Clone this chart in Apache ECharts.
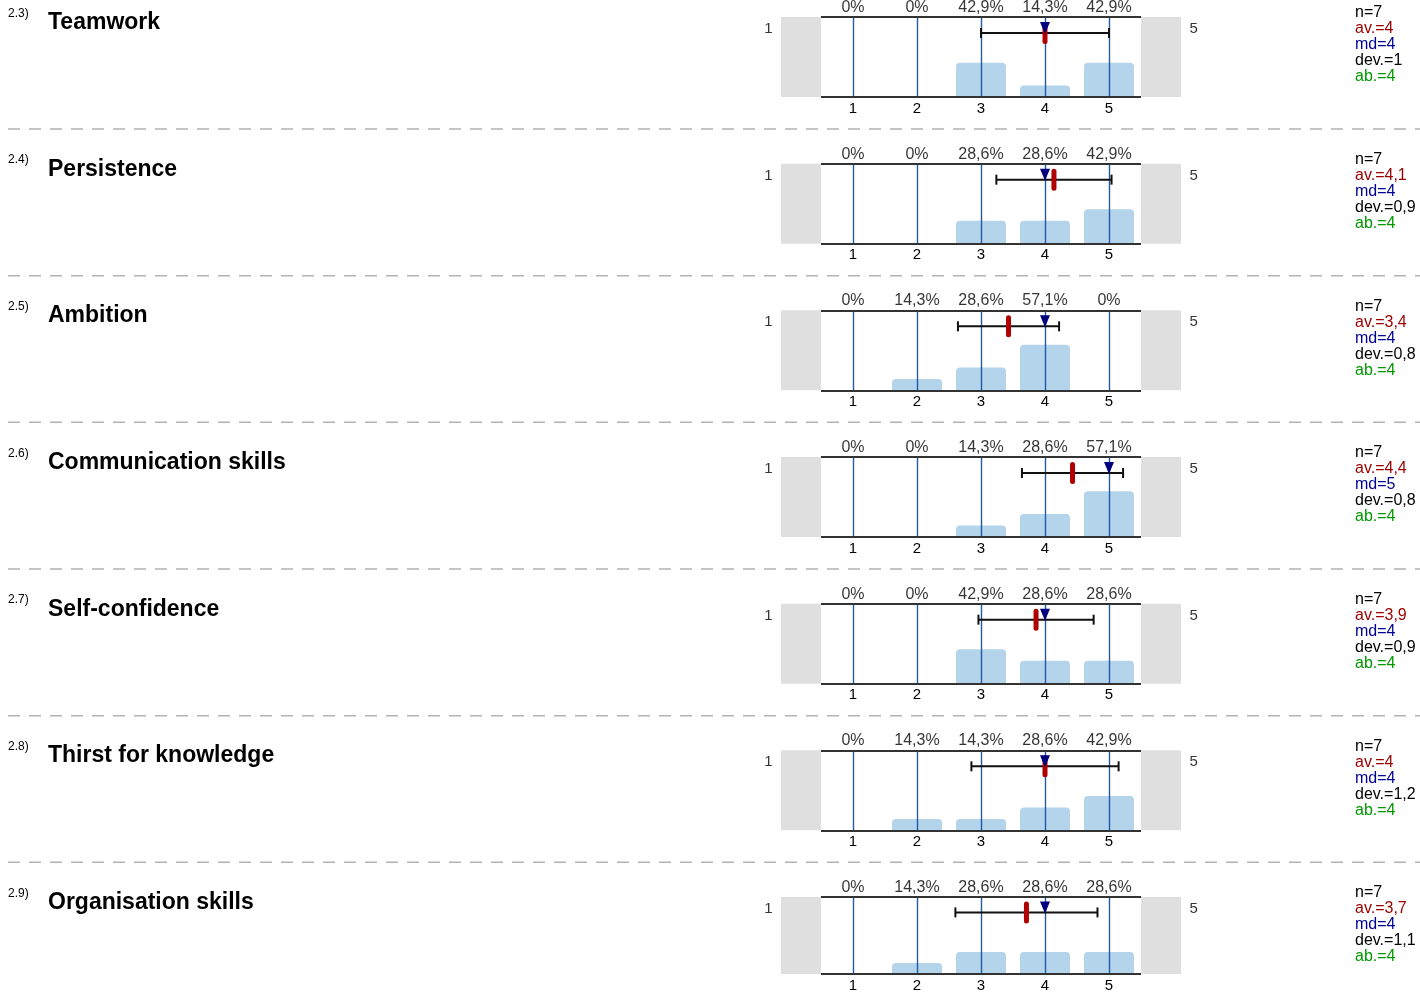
<!DOCTYPE html>
<html>
<head>
<meta charset="utf-8">
<script src="https://cdn.jsdelivr.net/npm/echarts@6/dist/echarts.min.js"></script>
<style>
html,body{margin:0;padding:0;background:#fff;}
#c{width:1420px;height:993px;}
</style>
</head>
<body>
<div id="c"></div>
<script>
// ---- data ----
var itemNumbers = ['2.3)', '2.4)', '2.5)', '2.6)', '2.7)', '2.8)', '2.9)'];
var itemTitles = ['Teamwork', 'Persistence', 'Ambition', 'Communication skills', 'Self-confidence', 'Thirst for knowledge', 'Organisation skills'];
var scaleValues = [1, 2, 3, 4, 5];
var scaleEnds = ['1', '5'];
var percents = [
  [0, 0, 42.9, 14.3, 42.9],
  [0, 0, 28.6, 28.6, 42.9],
  [0, 14.3, 28.6, 57.1, 0],
  [0, 0, 14.3, 28.6, 57.1],
  [0, 0, 42.9, 28.6, 28.6],
  [0, 14.3, 14.3, 28.6, 42.9],
  [0, 14.3, 28.6, 28.6, 28.6]
];
var means = [4.00, 4.14, 3.43, 4.43, 3.86, 4.00, 3.71];
var devs = [1.00, 0.90, 0.79, 0.79, 0.90, 1.15, 1.11];
var medians = [4, 4, 4, 5, 4, 4, 4];
var nValues = ['7', '7', '7', '7', '7', '7', '7'];
var avLabels = ['4', '4,1', '3,4', '4,4', '3,9', '4', '3,7'];
var mdLabels = ['4', '4', '4', '5', '4', '4', '4'];
var devLabels = ['1', '0,9', '0,8', '0,8', '0,9', '1,2', '1,1'];
var abLabels = ['4', '4', '4', '4', '4', '4', '4'];

// ---- layout / style ----
var ROW_H = 146.667;
var FIRST_TOP = 17;
var GRID_H = 80;
var FONT = 'Liberation Sans';
var ERR_Y = 80;

function fmtPct(p) {
  if (p === 0) return '0%';
  return p.toFixed(1).replace('.', ',') + '%';
}

function buildOption() {
  var grids = [], xAxes = [], yAxes = [], series = [], titles = [], graphics = [];
  for (var i = 0; i < itemTitles.length; i++) {
    var rowTop = FIRST_TOP + i * ROW_H;
    grids.push({left: 781, width: 400, top: rowTop, height: GRID_H});
    xAxes.push({
      gridIndex: i, type: 'value', min: -0.125, max: 6.125,
      axisLine: {show: false}, axisTick: {show: false}, splitLine: {show: false},
      axisLabel: {customValues: scaleValues, fontSize: 15, color: '#000', margin: 4, fontFamily: FONT}
    });
    yAxes.push({gridIndex: i, type: 'value', min: 0, max: 100, show: false});

    series.push({
      type: 'bar', xAxisIndex: i, yAxisIndex: i,
      data: scaleValues.map(function (v, k) { return [v, percents[i][k]]; }),
      barWidth: 50,
      itemStyle: {color: '#b4d4eb', borderRadius: [4, 4, 0, 0]},
      z: 2,
      markArea: {
        silent: true,
        itemStyle: {color: '#dfdfdf'},
        data: [
          [{xAxis: -0.125}, {xAxis: 0.5}],
          [{xAxis: 5.5}, {xAxis: 6.125}]
        ]
      },
      markLine: {
        silent: true, symbol: 'none',
        label: {show: false},
        data: scaleValues.map(function (v) {
          return {xAxis: v, lineStyle: {color: '#1f5aa6', width: 1.4, type: 'solid'}};
        }).concat([
          [{coord: [0.5, 100], lineStyle: {color: '#333', width: 2, type: 'solid'}}, {coord: [5.5, 100]}],
          [{coord: [0.5, 0], lineStyle: {color: '#333', width: 2, type: 'solid'}}, {coord: [5.5, 0]}]
        ])
      }
    });

    (function (row) {
      series.push({
        type: 'scatter', xAxisIndex: row, yAxisIndex: row,
        data: scaleValues.map(function (v) { return [v, 100]; }),
        symbolSize: 1, itemStyle: {color: 'rgba(0,0,0,0)'},
        clip: false,
        label: {
          show: true, position: 'top', distance: 1, fontSize: 16, color: '#000', fontFamily: FONT,
          formatter: function (p) { return fmtPct(percents[row][p.dataIndex]); }
        },
        z: 5
      });
      series.push({
        type: 'scatter', xAxisIndex: row, yAxisIndex: row,
        data: [
          {value: [-0.125, 85], label: {position: 'left', formatter: scaleEnds[0]}},
          {value: [6.125, 85], label: {position: 'right', formatter: scaleEnds[1]}}
        ],
        symbolSize: 1, itemStyle: {color: 'rgba(0,0,0,0)'},
        clip: false,
        label: {show: true, distance: 8, fontSize: 15, color: '#000', fontFamily: FONT},
        z: 5
      });
    })(i);

    series.push({
      type: 'custom', xAxisIndex: i, yAxisIndex: i, clip: false,
      data: [[means[i], devs[i], medians[i], ERR_Y]],
      renderItem: function (params, api) {
        var avg = api.value(0), dev = api.value(1), md = api.value(2), yv = api.value(3);
        var pL = api.coord([avg - dev, yv]), pR = api.coord([avg + dev, yv]);
        var pM = api.coord([avg, yv]), pD = api.coord([md, yv]);
        return {
          type: 'group',
          children: [
            {type: 'line', shape: {x1: pL[0], y1: pL[1], x2: pR[0], y2: pR[1]}, style: {stroke: '#111', lineWidth: 2}},
            {type: 'line', shape: {x1: pL[0], y1: pL[1] - 5, x2: pL[0], y2: pL[1] + 5}, style: {stroke: '#111', lineWidth: 2}},
            {type: 'line', shape: {x1: pR[0], y1: pR[1] - 5, x2: pR[0], y2: pR[1] + 5}, style: {stroke: '#111', lineWidth: 2}},
            {type: 'rect', shape: {x: pM[0] - 2.5, y: pM[1] - 11, width: 5, height: 22, r: 2.5}, style: {fill: '#b00000'}},
            {type: 'polygon', shape: {points: [[pD[0] - 5, pD[1] - 11], [pD[0] + 5, pD[1] - 11], [pD[0], pD[1] + 1]]}, style: {fill: '#00007f'}}
          ]
        };
      },
      z: 10
    });

    titles.push({
      text: itemNumbers[i], left: 8, top: rowTop - 10, padding: 0,
      textStyle: {fontSize: 12, fontWeight: 'normal', color: '#000', fontFamily: FONT, lineHeight: 13}
    });
    titles.push({
      text: itemTitles[i], left: 48, top: rowTop - 6, padding: 0,
      textStyle: {fontSize: 23, fontWeight: 'bold', color: '#000', fontFamily: FONT, lineHeight: 23}
    });
    titles.push({
      text: '{n|n=' + nValues[i] + '}\n{av|av.=' + avLabels[i] + '}\n{md|md=' + mdLabels[i] + '}\n{dev|dev.=' + devLabels[i] + '}\n{ab|ab.=' + abLabels[i] + '}',
      left: 1355, top: rowTop - 12, padding: 0,
      textStyle: {
        fontSize: 16, fontWeight: 'normal', fontFamily: FONT, lineHeight: 16,
        rich: {
          n: {color: '#000', fontSize: 16, lineHeight: 16},
          av: {color: '#990000', fontSize: 16, lineHeight: 16},
          md: {color: '#000099', fontSize: 16, lineHeight: 16},
          dev: {color: '#000', fontSize: 16, lineHeight: 16},
          ab: {color: '#009900', fontSize: 16, lineHeight: 16}
        }
      }
    });
    if (i < itemTitles.length - 1) {
      graphics.push({
        type: 'line', silent: true,
        shape: {x1: 8, y1: rowTop + 112, x2: 1420, y2: rowTop + 112},
        style: {stroke: '#b3b3b3', lineWidth: 1.5, lineDash: [12, 9]}
      });
    }
  }
  return {animation: false, title: titles, grid: grids, xAxis: xAxes, yAxis: yAxes, series: series, graphic: graphics};
}

var chart = echarts.init(document.getElementById('c'));
chart.setOption(buildOption());
</script>
</body>
</html>
